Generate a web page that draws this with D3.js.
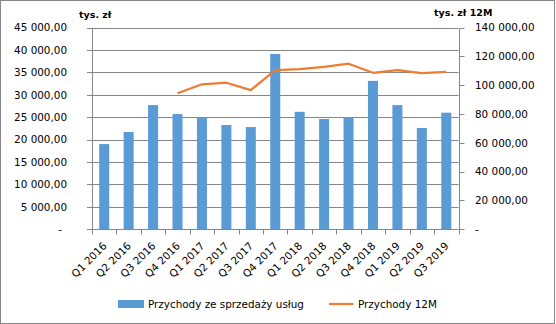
<!DOCTYPE html>
<html><head><meta charset="utf-8">
<script src="https://cdn.jsdelivr.net/npm/d3@7"></script>
<style>
html,body{margin:0;padding:0;background:#fff;}
text{font-family:"DejaVu Sans",Verdana,sans-serif;fill:#000;}
</style></head>
<body>
<svg id="c" width="556" height="324"></svg>
<script>
const categories = ["Q1 2016","Q2 2016","Q3 2016","Q4 2016","Q1 2017","Q2 2017","Q3 2017","Q4 2017","Q1 2018","Q2 2018","Q3 2018","Q4 2018","Q1 2019","Q2 2019","Q3 2019"];
const revenue = [19000,21700,27700,25700,24900,23250,22800,39100,26200,24600,25000,33100,27700,22600,26000];
const revenue12M = [null,null,null,94400,100600,101700,96600,110500,111100,112700,114900,108600,110500,108400,109300];
const leftTicks = [0,5000,10000,15000,20000,25000,30000,35000,40000,45000];
const rightTicks = [0,20000,40000,60000,80000,100000,120000,140000];
const seriesNames = ["Przychody ze sprzedaży usług","Przychody 12M"];
const axisTitles = ["tys. zł","tys. zł 12M"];

const barColor = "#5B9BD5", lineColor = "#ED7D31", gridColor = "#868686";
const svg = d3.select("#c");
const L = 92, R = 458.5, B = 229.3, T = 27.5;

const loc = d3.formatLocale({decimal:",",thousands:"\u00a0",grouping:[3],currency:["",""]});
const fmt = v => v === 0 ? "-" : loc.format(",.2f")(v);

const x = d3.scaleBand().domain(categories).range([L,R]).paddingInner(0.59).paddingOuter(0.295);
const yL = d3.scaleLinear().domain([0,45000]).range([B,T]);
const yR = d3.scaleLinear().domain([0,140000]).range([B,T]);
const px = v => Math.round(v) + 0.5;

// outer border
svg.append("rect").attr("x",0.5).attr("y",0.5).attr("width",554).attr("height",323)
  .attr("fill","none").attr("stroke",gridColor).attr("stroke-width",1);

// gridlines + left ticks
svg.append("g").selectAll("line").data(leftTicks).join("line")
  .attr("x1",L-5).attr("x2",R).attr("y1",d=>px(yL(d))).attr("y2",d=>px(yL(d)))
  .attr("stroke",gridColor).attr("stroke-width",1);
// left axis line
svg.append("line").attr("x1",px(L)).attr("x2",px(L)).attr("y1",px(yL(45000))).attr("y2",px(B))
  .attr("stroke",gridColor);
// right axis line + ticks
svg.append("line").attr("x1",px(R)).attr("x2",px(R)).attr("y1",px(yR(140000))).attr("y2",px(B))
  .attr("stroke",gridColor);
svg.append("g").selectAll("line").data(rightTicks).join("line")
  .attr("x1",px(R)).attr("x2",px(R)+5).attr("y1",d=>px(yR(d))).attr("y2",d=>px(yR(d)))
  .attr("stroke",gridColor);
// x ticks at category boundaries
const bounds = d3.range(categories.length+1).map(i => L + i*x.step());
svg.append("g").selectAll("line").data(bounds).join("line")
  .attr("x1",d=>px(d)).attr("x2",d=>px(d)).attr("y1",px(B)).attr("y2",px(B)+5)
  .attr("stroke",gridColor);

// bars
svg.append("g").selectAll("rect").data(revenue).join("rect")
  .attr("x",(d,i)=>x(categories[i])).attr("width",x.bandwidth())
  .attr("y",d=>yL(d)).attr("height",d=>B-yL(d)).attr("fill",barColor);

// line
const lineData = revenue12M.map((v,i)=>({c:categories[i],v})).filter(d=>d.v!=null);
svg.append("path").datum(lineData)
  .attr("d",d3.line().x(d=>x(d.c)+x.bandwidth()/2).y(d=>yR(d.v)))
  .attr("fill","none").attr("stroke",lineColor).attr("stroke-width",2.25).attr("stroke-linejoin","round");

// left labels
svg.append("g").selectAll("text").data(leftTicks).join("text")
  .attr("x",d=> d===0 ? 62 : 67).attr("y",d=>yL(d)).attr("dy","0.36em")
  .attr("text-anchor","end").style("font-size","10.4px").text(fmt);
// right labels
svg.append("g").selectAll("text").data(rightTicks).join("text")
  .attr("x",475).attr("y",d=>yR(d)).attr("dy","0.36em")
  .attr("text-anchor","start").style("font-size","10.4px").text(fmt);

// x labels
svg.append("g").selectAll("text").data(categories).join("text")
  .attr("transform",d=>`translate(${x(d)+x.bandwidth()/2+0.5},${244}) rotate(-45)`)
  .attr("text-anchor","end").attr("dy","0.36em").style("font-size","10.4px").text(d=>d);

// axis titles
svg.append("text").attr("x",79).attr("y",17.5).style("font-size","9.5px").style("font-weight","bold").text(axisTitles[0]);
svg.append("text").attr("x",434).attr("y",15.5).style("font-size","9.5px").style("font-weight","bold").text(axisTitles[1]);

// legend
svg.append("rect").attr("x",118).attr("y",300).attr("width",26).attr("height",8).attr("fill",barColor);
svg.append("text").attr("x",148).attr("y",304).attr("dy","0.36em").style("font-size","10.4px").text(seriesNames[0]);
svg.append("line").attr("x1",329).attr("x2",353.5).attr("y1",304).attr("y2",304).attr("stroke",lineColor).attr("stroke-width",2.25);
svg.append("text").attr("x",358).attr("y",304).attr("dy","0.36em").style("font-size","10.4px").text(seriesNames[1]);
</script>
</body></html>
